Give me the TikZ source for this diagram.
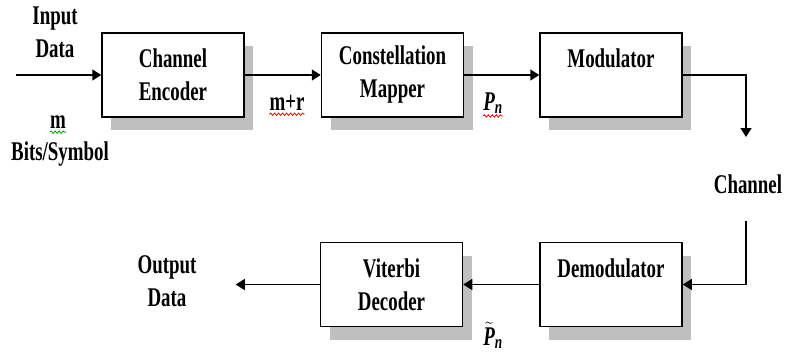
\documentclass[tikz,border=0pt]{standalone}
\usepackage{amsmath}
\usepackage{fontspec}
\setmainfont{Liberation Serif}[FakeStretch=0.7]
\usetikzlibrary{positioning,shadows,arrows.meta,decorations.pathmorphing}
\tikzset{
block/.style={draw, line width=1.5pt, fill=white, minimum width=142pt, minimum height=84pt,
 inner sep=0pt, align=center, font=\bfseries\fontsize{27}{33}\selectfont,
 drop shadow={shadow xshift=9pt, shadow yshift=-13pt, fill=black!25, opacity=1}},
lbl/.style={align=center, inner sep=0pt, font=\bfseries\fontsize{27}{33}\selectfont},
flow/.style={line width=1.5pt, -{Triangle[length=9pt,width=11pt]}},
spell/.style={line width=0.8pt, decorate, decoration={snake, amplitude=1.2pt, segment length=4pt}},
}

\begin{document}
\begin{tikzpicture}[x=1pt,y=-1pt]
\useasboundingbox (0,0) rectangle (785,354);

\node[block] (enc) at (173,75) {Channel\\Encoder};
\node[block, right=76pt of enc] (map) {Constellation\\Mapper};
\node[block, right=75pt of map] (mod) {Modulator\\\mbox{}};
\node[block, below=124pt of mod] (demod) {Demodulator\\\mbox{}};
\node[block, left=76pt of demod] (vit) {Viterbi\\Decoder};

\coordinate (in) at ([xshift=-85pt]enc.west);
\coordinate (out) at ([xshift=-84pt]vit.west);
\coordinate (chtop) at (746,137);
\coordinate (chbot) at (746,221);

\draw[flow] (in) -- (enc);
\draw[flow] (enc) -- (map);
\draw[flow] (map) -- (mod);
\draw[flow] (mod.east) -| (chtop);
\draw[flow] (chbot) |- (demod.east);
\draw[flow] (demod) -- (vit);
\draw[flow] (vit) -- (out);

% labels
\node[lbl] (indata) at (55,32) {Input\\Data};
\node[lbl, anchor=base] (m) at (58,128) {m};
\node[lbl, anchor=base] (bits) at (60,160) {Bits/Symbol};
\node[lbl, anchor=base] (mr) at (287,110) {m+r};
\node[lbl, anchor=base] (pn) at (493,110) {$\text{\itshape P}_{\text{\itshape n}}$};
\node[lbl, anchor=base] (chan) at (748,193) {Channel};
\node[lbl] (outdata) at (167,281) {Output\\Data};
\node[lbl, anchor=base] (pt) at (493,345) {$\tilde{\text{\itshape P}}_{\text{\itshape n}}$};

% spelling marks
\draw[spell, green!60!black] ([yshift=-4pt]m.south west) -- ([yshift=-4pt]m.south east);
\draw[spell, red] ([yshift=-4pt]mr.south west) -- ([yshift=-4pt]mr.south east);
\draw[spell, red] ([yshift=-2pt]pn.south west) -- ([yshift=-2pt]pn.south east);
\end{tikzpicture}
\end{document}
